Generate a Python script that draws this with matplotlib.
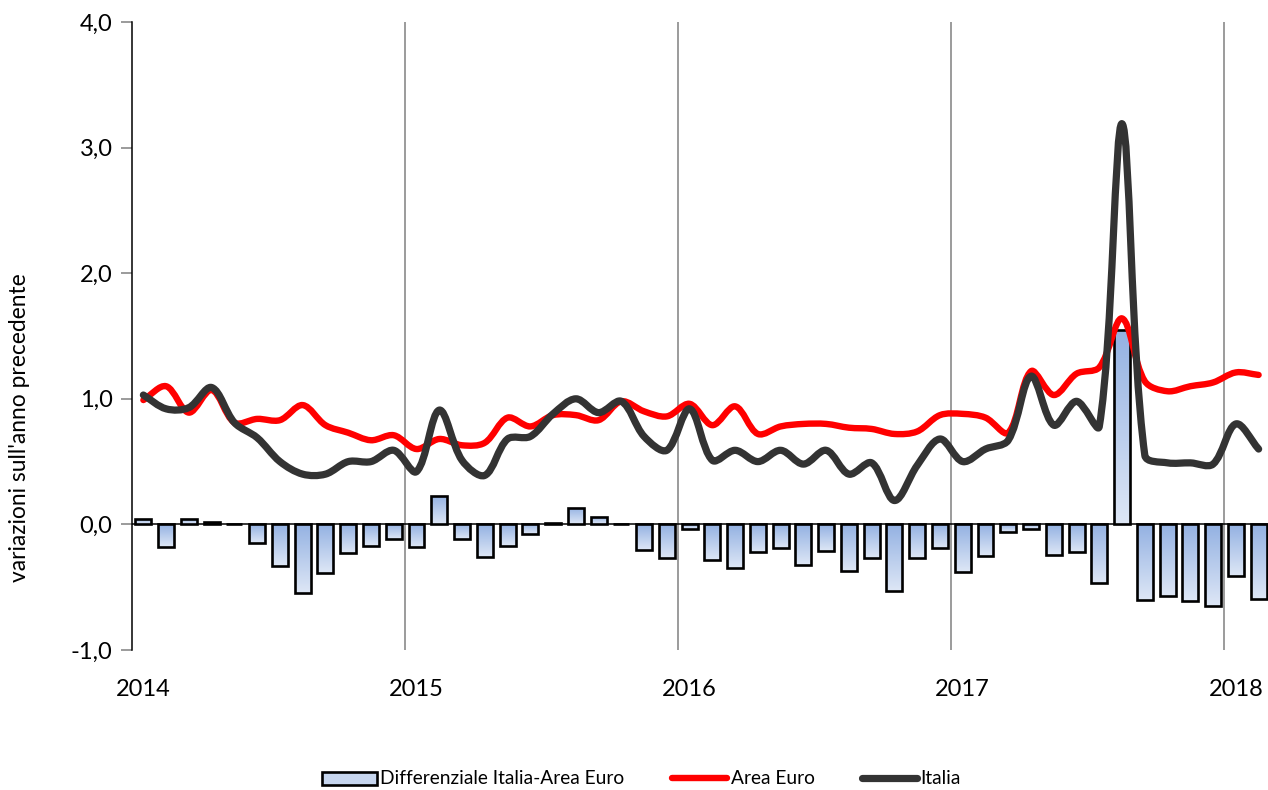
import numpy as np
import matplotlib
matplotlib.use("Agg")
import matplotlib.pyplot as plt
from matplotlib.path import Path
from matplotlib.patches import PathPatch, Rectangle
from matplotlib.lines import Line2D
from matplotlib.colors import LinearSegmentedColormap
from matplotlib.legend_handler import HandlerPatch

plt.rcParams['font.family'] = ['Lato', 'DejaVu Sans']

# ---------------- data (monthly, Jan 2014 - Feb 2018) ----------------
area_euro = [0.99, 1.10, 0.89, 1.07, 0.81, 0.84, 0.83, 0.95, 0.79, 0.73, 0.67, 0.71,
             0.60, 0.68, 0.63, 0.65, 0.85, 0.78, 0.87, 0.87, 0.83, 0.98, 0.90, 0.86,
             0.96, 0.79, 0.94, 0.72, 0.78, 0.80, 0.80, 0.77, 0.76, 0.72, 0.74, 0.87,
             0.88, 0.85, 0.73, 1.22, 1.03, 1.20, 1.25, 1.64, 1.14, 1.06, 1.10, 1.13,
             1.21, 1.19]
italia = [1.03, 0.92, 0.93, 1.09, 0.81, 0.69, 0.50, 0.40, 0.40, 0.50, 0.50, 0.59,
          0.42, 0.91, 0.51, 0.39, 0.68, 0.70, 0.88, 1.00, 0.89, 0.98, 0.70, 0.59,
          0.92, 0.51, 0.59, 0.50, 0.59, 0.48, 0.59, 0.40, 0.49, 0.19, 0.47, 0.68,
          0.50, 0.60, 0.67, 1.18, 0.79, 0.98, 0.78, 3.19, 0.55, 0.49, 0.49, 0.48,
          0.80, 0.60]
differenziale = [0.04, -0.18, 0.04, 0.02, 0.005, -0.15, -0.33, -0.55, -0.39, -0.23, -0.17, -0.12,
                 -0.18, 0.23, -0.12, -0.26, -0.17, -0.08, 0.01, 0.13, 0.06, 0.005, -0.20, -0.27,
                 -0.04, -0.28, -0.35, -0.22, -0.19, -0.32, -0.21, -0.37, -0.27, -0.53, -0.27, -0.19,
                 -0.38, -0.25, -0.06, -0.04, -0.24, -0.22, -0.47, 1.55, -0.60, -0.57, -0.61, -0.65,
                 -0.41, -0.59]
year_labels = ["2014", "2015", "2016", "2017", "2018"]
y_ticks = [-1.0, 0.0, 1.0, 2.0, 3.0, 4.0]
y_tick_labels = ["-1,0", "0,0", "1,0", "2,0", "3,0", "4,0"]
legend_labels = ["Differenziale Italia-Area Euro", "Area Euro", "Italia"]

W, H = 1268, 790
fig = plt.figure(figsize=(W / 100, H / 100), dpi=100)
ax = fig.add_axes([132 / W, 1 - 650 / H, (1270 - 132) / W, (650 - 22) / H])

n = len(area_euro)
x = np.arange(n)

ax.set_xlim(-0.5, n - 0.5)
ax.set_ylim(-1.0, 4.0)

# vertical year separators
for k in range(1, len(year_labels)):
    ax.axvline(12 * k - 0.5, color='#808080', lw=1.1, zorder=1)

# zero line
ax.axhline(0, color='black', lw=1.1, zorder=2)

# gradient bars
cmap = LinearSegmentedColormap.from_list('g', ['#93B1E2', '#DEE7F6'])
grad = np.linspace(0, 1, 256).reshape(-1, 1)
bw = 0.70
for xi, v in zip(x, differenziale):
    bottom = min(0, v)
    h = abs(v)
    rect = Rectangle((xi - bw / 2, bottom), bw, h, facecolor='none',
                     edgecolor='black', lw=1.9, zorder=4)
    ax.add_patch(rect)
    if h > 0.012:
        im = ax.imshow(grad, cmap=cmap, aspect='auto',
                       extent=(xi - bw / 2, xi + bw / 2, bottom, bottom + h),
                       origin='upper', zorder=3, interpolation='bilinear')
        im.set_clip_path(rect)

# pixel scale of the axes, used to weight the smoothing by segment length
PX_X = 1138 / n
PX_Y = 628 / 5.0


def smooth_path(xs, ys, t=1.0 / 3.0):
    xs = np.asarray(xs, float)
    ys = np.asarray(ys, float)
    P = np.column_stack([xs * PX_X, ys * PX_Y])
    m = len(P)
    c_out = np.zeros_like(P)
    c_in = np.zeros_like(P)
    for i in range(m):
        prev = P[i - 1] if i > 0 else P[i]
        nxt = P[i + 1] if i < m - 1 else P[i]
        d = nxt - prev
        lin = np.hypot(*(P[i] - prev))
        lout = np.hypot(*(nxt - P[i]))
        s = lin + lout
        if s == 0:
            c_in[i] = P[i]
            c_out[i] = P[i]
            continue
        c_out[i] = P[i] + d * t * lout / s
        c_in[i] = P[i] - d * t * lin / s
    verts = [P[0]]
    codes = [Path.MOVETO]
    for i in range(m - 1):
        verts += [c_out[i], c_in[i + 1], P[i + 1]]
        codes += [Path.CURVE4] * 3
    V = np.array(verts)
    V[:, 0] /= PX_X
    V[:, 1] /= PX_Y
    return Path(V, codes)


ax.add_patch(PathPatch(smooth_path(x, area_euro), facecolor='none',
                       edgecolor='#FF0000', lw=4.6, zorder=5,
                       capstyle='round', joinstyle='round'))
ax.add_patch(PathPatch(smooth_path(x, italia), facecolor='none',
                       edgecolor='#333333', lw=5.2, zorder=6,
                       capstyle='round', joinstyle='round'))

# axes styling
for s in ['top', 'right', 'bottom']:
    ax.spines[s].set_visible(False)
ax.spines['left'].set_color('black')
ax.spines['left'].set_linewidth(1.1)

ax.set_yticks(y_ticks)
ax.set_yticklabels(y_tick_labels, fontsize=17)
ax.tick_params(axis='y', length=8, width=1.1, color='#808080', pad=6)
ax.yaxis.get_major_ticks()[-1].tick1line.set_color('black')

ax.set_xticks([12 * k for k in range(len(year_labels))])
ax.set_xticklabels(year_labels, fontsize=17)
ax.tick_params(axis='x', length=0, pad=21)

fig.text(20 / W, 1 - 428 / H, "variazioni sull'anno precedente", fontsize=16.4,
         rotation=90, ha='center', va='center')


class GradHandler(HandlerPatch):
    def create_artists(self, legend, orig_handle, xdescent, ydescent,
                       width, height, fontsize, trans):
        r = Rectangle((-xdescent, -ydescent + height * 0.0), width, height * 0.95,
                      facecolor='#C6D5EE', edgecolor='black', lw=1.9,
                      transform=trans)
        return [r]


h_bar = Rectangle((0, 0), 1, 1)
h_eu = Line2D([], [], color='#FF0000', lw=4.6, solid_capstyle='round')
h_it = Line2D([], [], color='#333333', lw=5.2, solid_capstyle='round')
fig.legend([h_bar, h_eu, h_it], legend_labels, loc='center',
           bbox_to_anchor=(641.5 / W, 1 - 779 / H), ncol=3, frameon=False,
           fontsize=13.75, handlelength=2.85, handletextpad=0.2,
           columnspacing=2.5, handler_map={Rectangle: GradHandler()})

fig.savefig('out.png', dpi=100)
